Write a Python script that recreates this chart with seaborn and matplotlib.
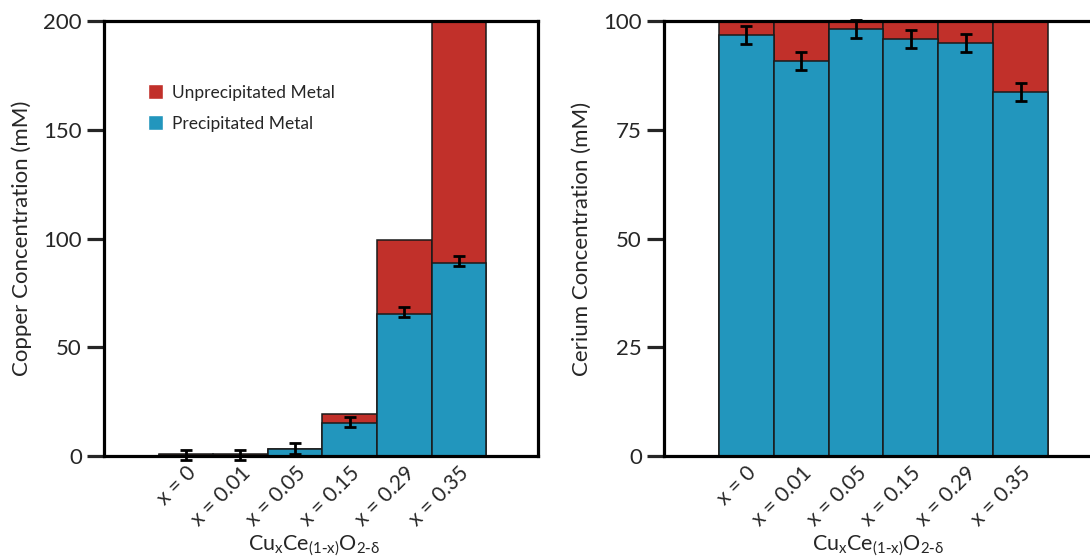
import numpy as np
import pandas as pd
import matplotlib
matplotlib.use('Agg')
import matplotlib.pyplot as plt
import seaborn as sns
from matplotlib.patches import Patch

# data
labels = ['x = 0', 'x = 0.01', 'x = 0.05', 'x = 0.15', 'x = 0.29', 'x = 0.35']
cu_total = [1.0, 1.0, 3.3, 19.3, 99.3, 200.0]
cu_precip = [0.6, 0.6, 3.0, 15.0, 65.2, 88.8]
cu_err_mid = [0.5, 0.5, 3.4, 15.6, 66.2, 89.7]
cu_err = [2.3, 2.3, 2.5, 2.2, 2.3, 2.3]

ce_total = [100, 100, 100, 100, 100, 100]
ce_precip = [96.8, 90.8, 98.2, 95.8, 94.9, 83.6]
ce_err = [2.0, 2.1, 2.1, 2.1, 2.0, 2.1]

RED = '#C1302A'
BLUE = '#2296BD'

sns.set_style('ticks')
plt.rcParams['font.family'] = ['Lato', 'DejaVu Sans']
plt.rcParams['mathtext.default'] = 'regular'

fig = plt.figure(figsize=(10.9, 5.6), dpi=100)
ax1 = fig.add_axes([0.0954, 0.1857, 0.3982, 0.7768])
ax2 = fig.add_axes([0.6092, 0.1857, 0.4000, 0.7768])

cu = pd.DataFrame({'sample': labels, 'total': cu_total, 'precip': cu_precip})
ce = pd.DataFrame({'sample': labels, 'total': ce_total, 'precip': ce_precip})


def draw(ax, df, mid, err, ymax, yticks, ylabel, xlab_x):
    sns.barplot(data=df, x='sample', y='total', color=RED, saturation=1,
                width=1, edgecolor='#1a1a1a', linewidth=1.1, ax=ax)
    sns.barplot(data=df, x='sample', y='precip', color=BLUE, saturation=1,
                width=1, edgecolor='#1a1a1a', linewidth=1.1, ax=ax)
    ax.errorbar(np.arange(len(df)), mid, yerr=err, fmt='none', ecolor='black',
                elinewidth=2.0, capsize=4.5, capthick=2.0, clip_on=False, zorder=5)
    ax.set_xlim(-1.5, 6.45)
    ax.set_ylim(0, ymax)
    ax.set_yticks(yticks)
    for s in ax.spines.values():
        s.set_linewidth(2.3)
        s.set_color('black')
    ax.tick_params(axis='y', length=12, width=2.3, labelsize=16, pad=4)
    ax.tick_params(axis='x', length=0, labelsize=15, pad=5)
    plt.setp(ax.get_xticklabels(), rotation=45, ha='right', rotation_mode='anchor')
    ax.set_ylabel(ylabel, fontsize=16, labelpad=8)
    ax.set_xlabel(r'Cu$_x$Ce$_{(1\text{-}x)}$O$_{2\text{-}\delta}$', fontsize=15.5)
    ax.xaxis.set_label_coords(xlab_x, -0.18)


draw(ax1, cu, cu_err_mid, cu_err, 200, [0, 50, 100, 150, 200],
     'Copper Concentration (mM)', 0.485)
draw(ax2, ce, ce_precip, ce_err, 100, [0, 25, 50, 75, 100],
     'Cerium Concentration (mM)', 0.49)

handles = [Patch(facecolor=RED, label='Unprecipitated Metal'),
           Patch(facecolor=BLUE, label='Precipitated Metal')]
ax1.legend(handles=handles, loc='upper left', bbox_to_anchor=(0.065, 0.89),
           frameon=False, fontsize=12.5, handlelength=0.9, handleheight=0.9,
           handletextpad=0.5, labelspacing=0.85)

fig.savefig('out.png', dpi=100)
